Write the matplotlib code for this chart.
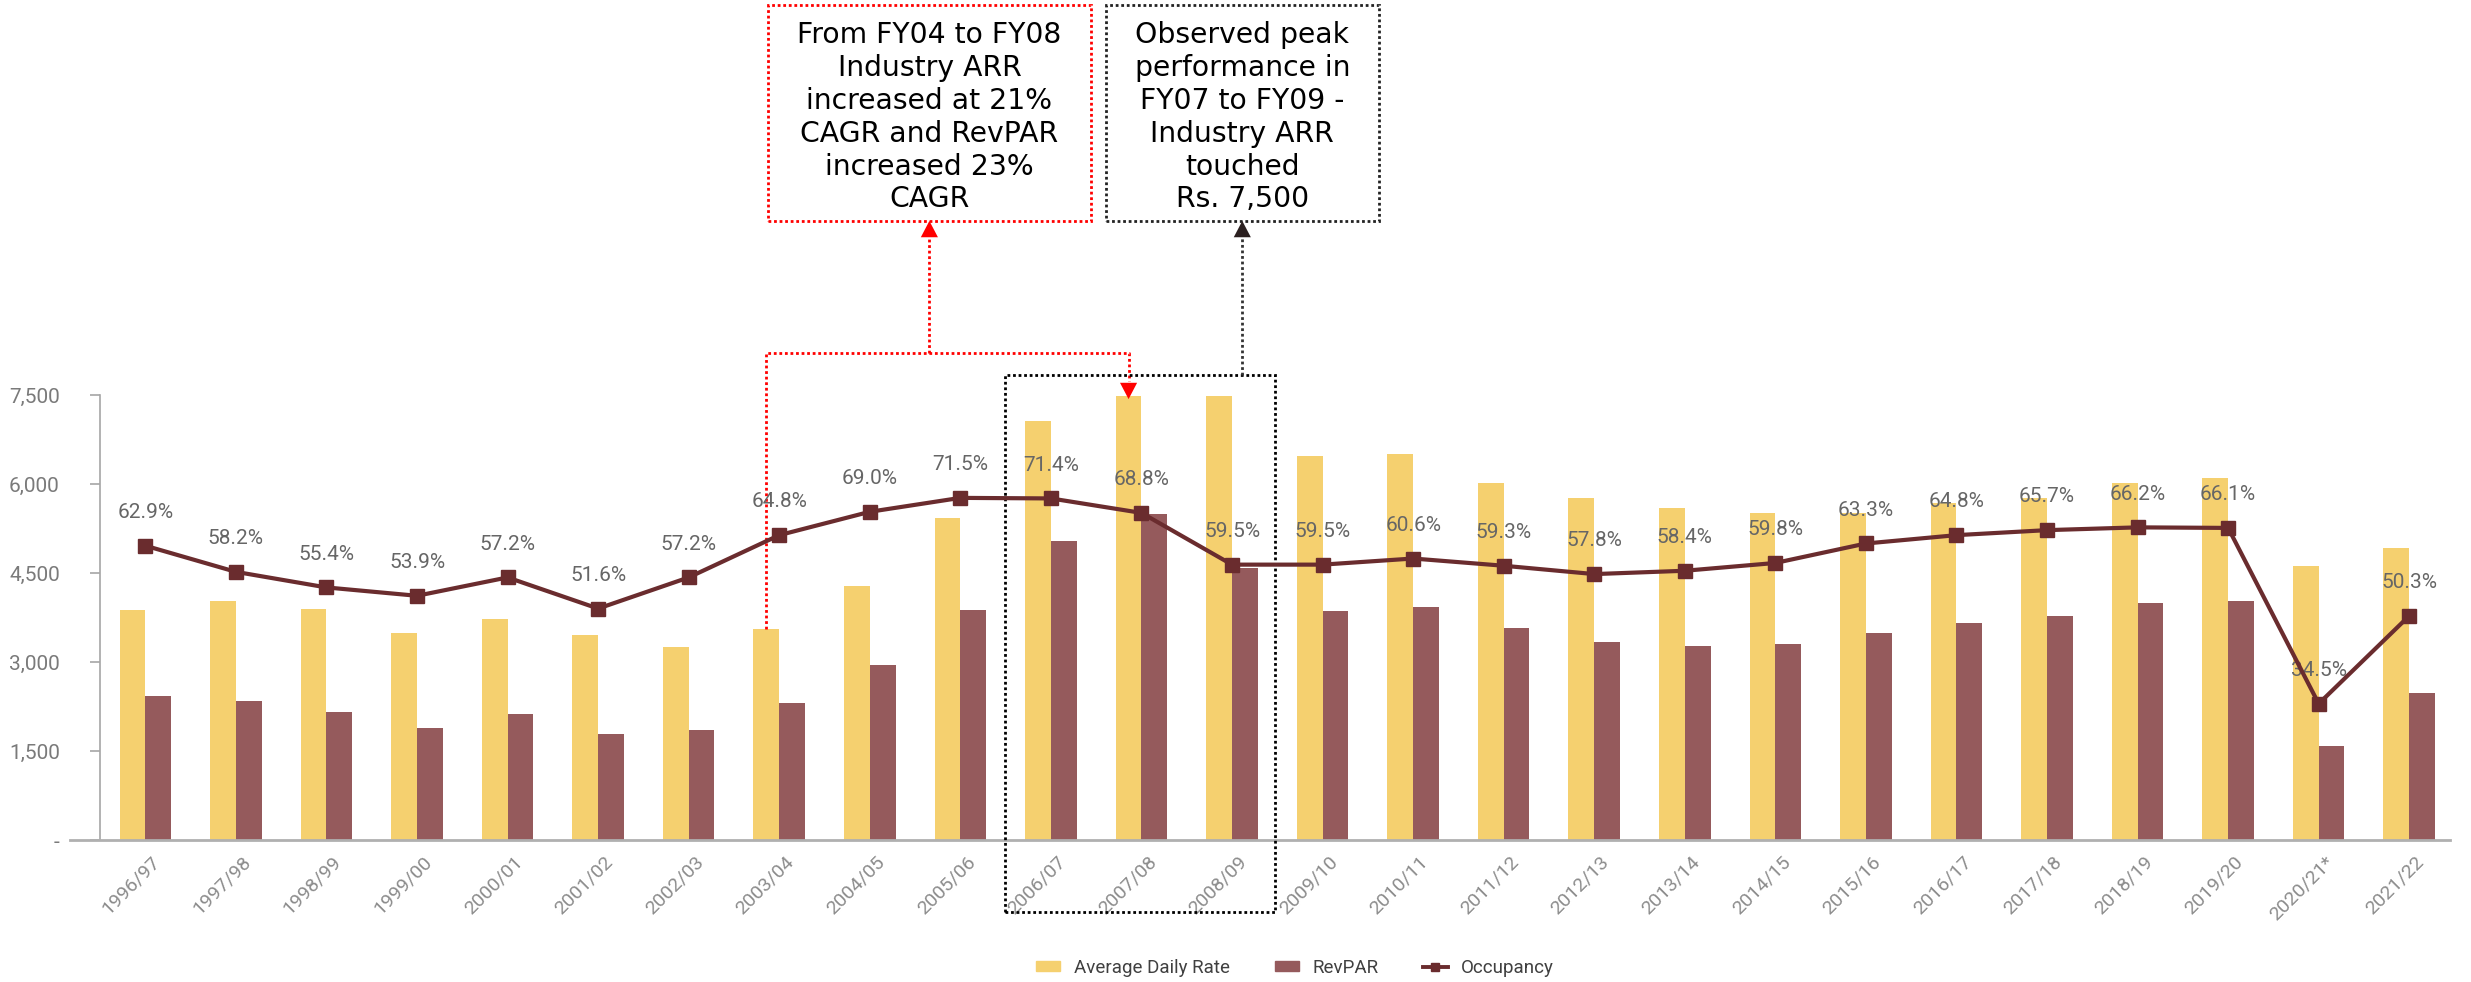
import matplotlib
matplotlib.use("Agg")
import matplotlib.pyplot as plt  # noqa: E402
import matplotlib.transforms as mtransforms  # noqa: E402
import numpy as np  # noqa: E402
from matplotlib.lines import Line2D  # noqa: E402
from matplotlib.patches import Patch, Rectangle  # noqa: E402

years = ["1996/97", "1997/98", "1998/99", "1999/00", "2000/01", "2001/02", "2002/03",
         "2003/04", "2004/05", "2005/06", "2006/07", "2007/08", "2008/09", "2009/10",
         "2010/11", "2011/12", "2012/13", "2013/14", "2014/15", "2015/16", "2016/17",
         "2017/18", "2018/19", "2019/20", "2020/21*", "2021/22"]
adr = [3876, 4034, 3893, 3489, 3719, 3455, 3258, 3556, 4286, 5433, 7056, 7490, 7490,
       6472, 6500, 6012, 5770, 5601, 5517, 5506, 5674, 5759, 6022, 6096, 4618, 4927]
revpar = [2432, 2343, 2152, 1882, 2124, 1781, 1854, 2304, 2955, 3882, 5034, 5489, 4590,
          3854, 3933, 3567, 3332, 3265, 3298, 3483, 3663, 3781, 3989, 4023, 1584, 2472]
occupancy = [62.9, 58.2, 55.4, 53.9, 57.2, 51.6, 57.2, 64.8, 69.0, 71.5, 71.4, 68.8, 59.5,
             59.5, 60.6, 59.3, 57.8, 58.4, 59.8, 63.3, 64.8, 65.7, 66.2, 66.1, 34.5, 50.3]
yticks = [0, 1500, 3000, 4500, 6000, 7500]

note_red = "From FY04 to FY08\nIndustry ARR\nincreased at 21%\nCAGR and RevPAR\nincreased 23%\nCAGR"
note_black = "Observed peak\nperformance in\nFY07 to FY09 -\nIndustry ARR\ntouched\nRs. 7,500"

ADR_C = "#f5d06f"
REV_C = "#955a5c"
OCC_C = "#6a2c2e"

plt.rcParams["font.family"] = ["Roboto", "DejaVu Sans"]

fig = plt.figure(figsize=(24.71, 9.82), dpi=100)
ax = fig.add_axes([0.0405, 0.1446, 0.951, 0.4532])

x = np.arange(len(years))
w = 0.285
ax.bar(x - w / 2, adr, w, color=ADR_C, zorder=2)
ax.bar(x + w / 2, revpar, w, color=REV_C, zorder=2)
ax.set_xlim(-0.5, 25.45)
ax.set_ylim(0, 7500)

ax.set_yticks(yticks)
ax.set_yticklabels(["-"] + [f"{v:,}" for v in yticks[1:]])
ax.tick_params(axis="y", length=7, width=1.2, color="#a6a6a6", pad=22,
               labelsize=15, labelcolor="#7a7a7a")
ax.set_xticks(x)
ax.set_xticklabels(years, rotation=45, ha="right", va="center", rotation_mode="anchor")
ax.tick_params(axis="x", length=0, pad=14, labelsize=14, labelcolor="#8c8c8c")
shift = mtransforms.ScaledTranslation(12 / 100, 0, fig.dpi_scale_trans)
for lab in ax.get_xticklabels():
    lab.set_transform(lab.get_transform() + shift)

for s in ["top", "right", "bottom"]:
    ax.spines[s].set_visible(False)
ax.spines["left"].set_color("#a6a6a6")
ax.spines["left"].set_linewidth(1.2)
ax.plot([-0.013, 1], [0, 0], transform=ax.transAxes, color="#b0b0b0", lw=2,
        clip_on=False, zorder=3)

# occupancy on hidden secondary axis
ax2 = ax.twinx()
ax2.set_ylim(10, 90)
ax2.axis("off")
ax2.plot(x, occupancy, color=OCC_C, lw=3, marker="s", markersize=9.5, zorder=5)
for xi, v in zip(x, occupancy):
    ax2.annotate(f"{v:.1f}%", (xi, v), xytext=(0, 24), textcoords="offset points",
                 ha="center", va="center", fontsize=15, color="#666666")

# annotation boxes and connectors (data coords of ax, outside the plot area)
dot = (0, (1, 1))
box_y0, box_y1 = 10433, 14073
red_x0, red_x1 = 6.876, 10.44
blk_x0, blk_x1 = 10.607, 13.62
for bx0, bx1, col, txt in [(red_x0, red_x1, "#ff0000", note_red),
                           (blk_x0, blk_x1, "#222222", note_black)]:
    ax.add_patch(Rectangle((bx0, box_y0), bx1 - bx0, box_y1 - box_y0, fill=False,
                           edgecolor=col, lw=2, linestyle=dot, clip_on=False, zorder=6))
    ax.text((bx0 + bx1) / 2, (box_y0 + box_y1) / 2 - 75, txt, ha="center", va="center",
            fontsize=20.3, family="DejaVu Sans", linespacing=1.22, color="black",
            clip_on=False)


def head(tx, ty, col, up):
    ax.annotate("", xy=(tx, ty), xytext=(0, -20 if up else 20), textcoords="offset points",
                arrowprops=dict(arrowstyle="-|>,head_length=0.42,head_width=0.22",
                                color=col, lw=0, shrinkA=0, shrinkB=0, mutation_scale=28),
                annotation_clip=False, zorder=7)


# red connector FY04 -> FY08
x_a = x[7] - w / 2
x_b = x[11] - w / 2
y_h = 8208
ax.plot([x_a, x_a, x_b, x_b], [adr[7], y_h, y_h, adr[11] + 250], color="#ff0000",
        lw=2, linestyle=dot, clip_on=False, zorder=6)
head(x_b, adr[11] - 60, "#ff0000", up=False)
red_mid = (red_x0 + red_x1) / 2
ax.plot([red_mid, red_mid], [y_h, box_y0 - 250], color="#ff0000", lw=2,
        linestyle=dot, clip_on=False, zorder=6)
head(red_mid, box_y0, "#ff0000", up=True)

# black frame around FY07-FY09
fr_x0, fr_x1, fr_y0, fr_y1 = 9.49, 12.48, -1213, 7837
ax.add_patch(Rectangle((fr_x0, fr_y0), fr_x1 - fr_x0, fr_y1 - fr_y0, fill=False,
                       edgecolor="black", lw=2, linestyle=dot, clip_on=False, zorder=6))
blk_mid = (blk_x0 + blk_x1) / 2
ax.plot([blk_mid, blk_mid], [fr_y1, box_y0 - 250], color="#333333", lw=2,
        linestyle=dot, clip_on=False, zorder=6)
head(blk_mid, box_y0, "#2b2020", up=True)

handles = [Patch(color=ADR_C), Patch(color=REV_C),
           Line2D([], [], color=OCC_C, lw=2.8, marker="s", markersize=6)]
fig.legend(handles, ["Average Daily Rate", "RevPAR", "Occupancy"], loc="center",
           bbox_to_anchor=(0.524, 0.0143), ncol=3, frameon=False, fontsize=13.5,
           handlelength=1.3, handleheight=0.45, handletextpad=0.7, columnspacing=2.4,
           labelcolor="#404040")

fig.savefig("out.png", dpi=100)
